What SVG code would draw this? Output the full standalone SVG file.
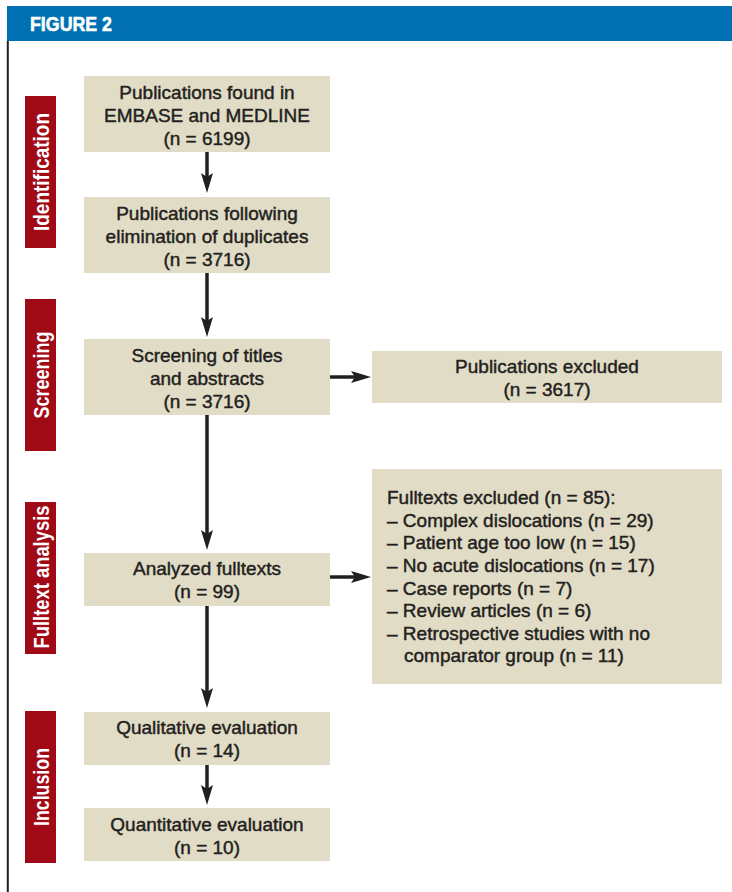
<svg xmlns="http://www.w3.org/2000/svg" width="732" height="892" viewBox="0 0 732 892">
<defs>
<style>
.box{fill:#e1dcc6}
.side{fill:#a00a17}
.t{font-family:"Liberation Sans",Arial,sans-serif;font-size:19px;fill:#231f20;stroke:#231f20;stroke-width:0.45px;text-anchor:middle}
.tl{font-family:"Liberation Sans",Arial,sans-serif;font-size:19px;fill:#231f20;stroke:#231f20;stroke-width:0.45px}
.s{font-family:"Liberation Sans",Arial,sans-serif;font-size:22px;font-weight:bold;fill:#ffffff;text-anchor:middle}
.c{stroke:#231f20;stroke-width:3.5;fill:none}
</style>
<marker id="ah" viewBox="0 0 20 12" refX="4" refY="6" markerWidth="20" markerHeight="12" markerUnits="userSpaceOnUse" orient="auto">
<path d="M0,0 L20,6 L0,12 L4,6 Z" fill="#231f20"/>
</marker>
</defs>
<rect width="732" height="892" fill="#ffffff"/>
<g id="header">
<rect x="7" y="6" width="725" height="35" fill="#0070b2"/>
<text x="30" y="31" font-family="Liberation Sans,Arial,sans-serif" font-size="21" font-weight="bold" fill="#ffffff" stroke="#ffffff" stroke-width="0.6" textLength="82" lengthAdjust="spacingAndGlyphs">FIGURE 2</text>
</g>
<line x1="7.8" y1="41" x2="7.8" y2="892" stroke="#231f20" stroke-width="2"/>
<g id="label-identification">
<rect class="side" x="25" y="96" width="31" height="152"/>
<text class="s" transform="translate(48.5,172) rotate(-90)" textLength="118" lengthAdjust="spacingAndGlyphs">Identification</text>
</g>
<g id="label-screening">
<rect class="side" x="25" y="299" width="31" height="152"/>
<text class="s" transform="translate(48.5,375) rotate(-90)" textLength="87" lengthAdjust="spacingAndGlyphs">Screening</text>
</g>
<g id="label-fulltext">
<rect class="side" x="25" y="502" width="31" height="152"/>
<text class="s" transform="translate(48.5,577) rotate(-90)" textLength="143" lengthAdjust="spacingAndGlyphs">Fulltext analysis</text>
</g>
<g id="label-inclusion">
<rect class="side" x="25" y="711" width="31" height="152"/>
<text class="s" transform="translate(48.5,787) rotate(-90)" textLength="78" lengthAdjust="spacingAndGlyphs">Inclusion</text>
</g>
<g id="connectors">
<line class="c" x1="207" y1="152" x2="207" y2="177" marker-end="url(#ah)"/>
<line class="c" x1="207" y1="273" x2="207" y2="321" marker-end="url(#ah)"/>
<line class="c" x1="207" y1="415" x2="207" y2="534" marker-end="url(#ah)"/>
<line class="c" x1="207" y1="606" x2="207" y2="692" marker-end="url(#ah)"/>
<line class="c" x1="207" y1="765" x2="207" y2="789" marker-end="url(#ah)"/>
<line class="c" x1="330" y1="377" x2="355" y2="377" marker-end="url(#ah)"/>
<line class="c" x1="330" y1="577" x2="355" y2="577" marker-end="url(#ah)"/>
</g>
<g id="n1">
<rect class="box" x="84" y="76" width="246" height="76"/>
<text class="t" x="207" y="99">Publications found in</text>
<text class="t" x="207" y="122">EMBASE and MEDLINE</text>
<text class="t" x="207" y="145">(n = 6199)</text>
</g>
<g id="n2">
<rect class="box" x="84" y="197" width="246" height="76"/>
<text class="t" x="207" y="220">Publications following</text>
<text class="t" x="207" y="243">elimination of duplicates</text>
<text class="t" x="207" y="266">(n = 3716)</text>
</g>
<g id="n3">
<rect class="box" x="84" y="339" width="246" height="76"/>
<text class="t" x="207" y="362">Screening of titles</text>
<text class="t" x="207" y="385">and abstracts</text>
<text class="t" x="207" y="408">(n = 3716)</text>
</g>
<g id="n4">
<rect class="box" x="372" y="351" width="350" height="52"/>
<text class="t" x="547" y="373">Publications excluded</text>
<text class="t" x="547" y="396">(n = 3617)</text>
</g>
<g id="n5">
<rect class="box" x="84" y="553" width="246" height="53"/>
<text class="t" x="207" y="575">Analyzed fulltexts</text>
<text class="t" x="207" y="598">(n = 99)</text>
</g>
<g id="n6">
<rect class="box" x="372" y="469" width="350" height="215"/>
<text class="tl" x="387" y="504">Fulltexts excluded (n = 85):</text>
<text class="tl" x="387" y="527">– Complex dislocations (n = 29)</text>
<text class="tl" x="387" y="549">– Patient age too low (n = 15)</text>
<text class="tl" x="387" y="572">– No acute dislocations (n = 17)</text>
<text class="tl" x="387" y="595">– Case reports (n = 7)</text>
<text class="tl" x="387" y="617">– Review articles (n = 6)</text>
<text class="tl" x="387" y="640">– Retrospective studies with no</text>
<text class="tl" x="404" y="662">comparator group (n = 11)</text>
</g>
<g id="n7">
<rect class="box" x="84" y="712" width="246" height="53"/>
<text class="t" x="207" y="734">Qualitative evaluation</text>
<text class="t" x="207" y="757">(n = 14)</text>
</g>
<g id="n8">
<rect class="box" x="84" y="808" width="246" height="53"/>
<text class="t" x="207" y="831">Quantitative evaluation</text>
<text class="t" x="207" y="854">(n = 10)</text>
</g>
</svg>
